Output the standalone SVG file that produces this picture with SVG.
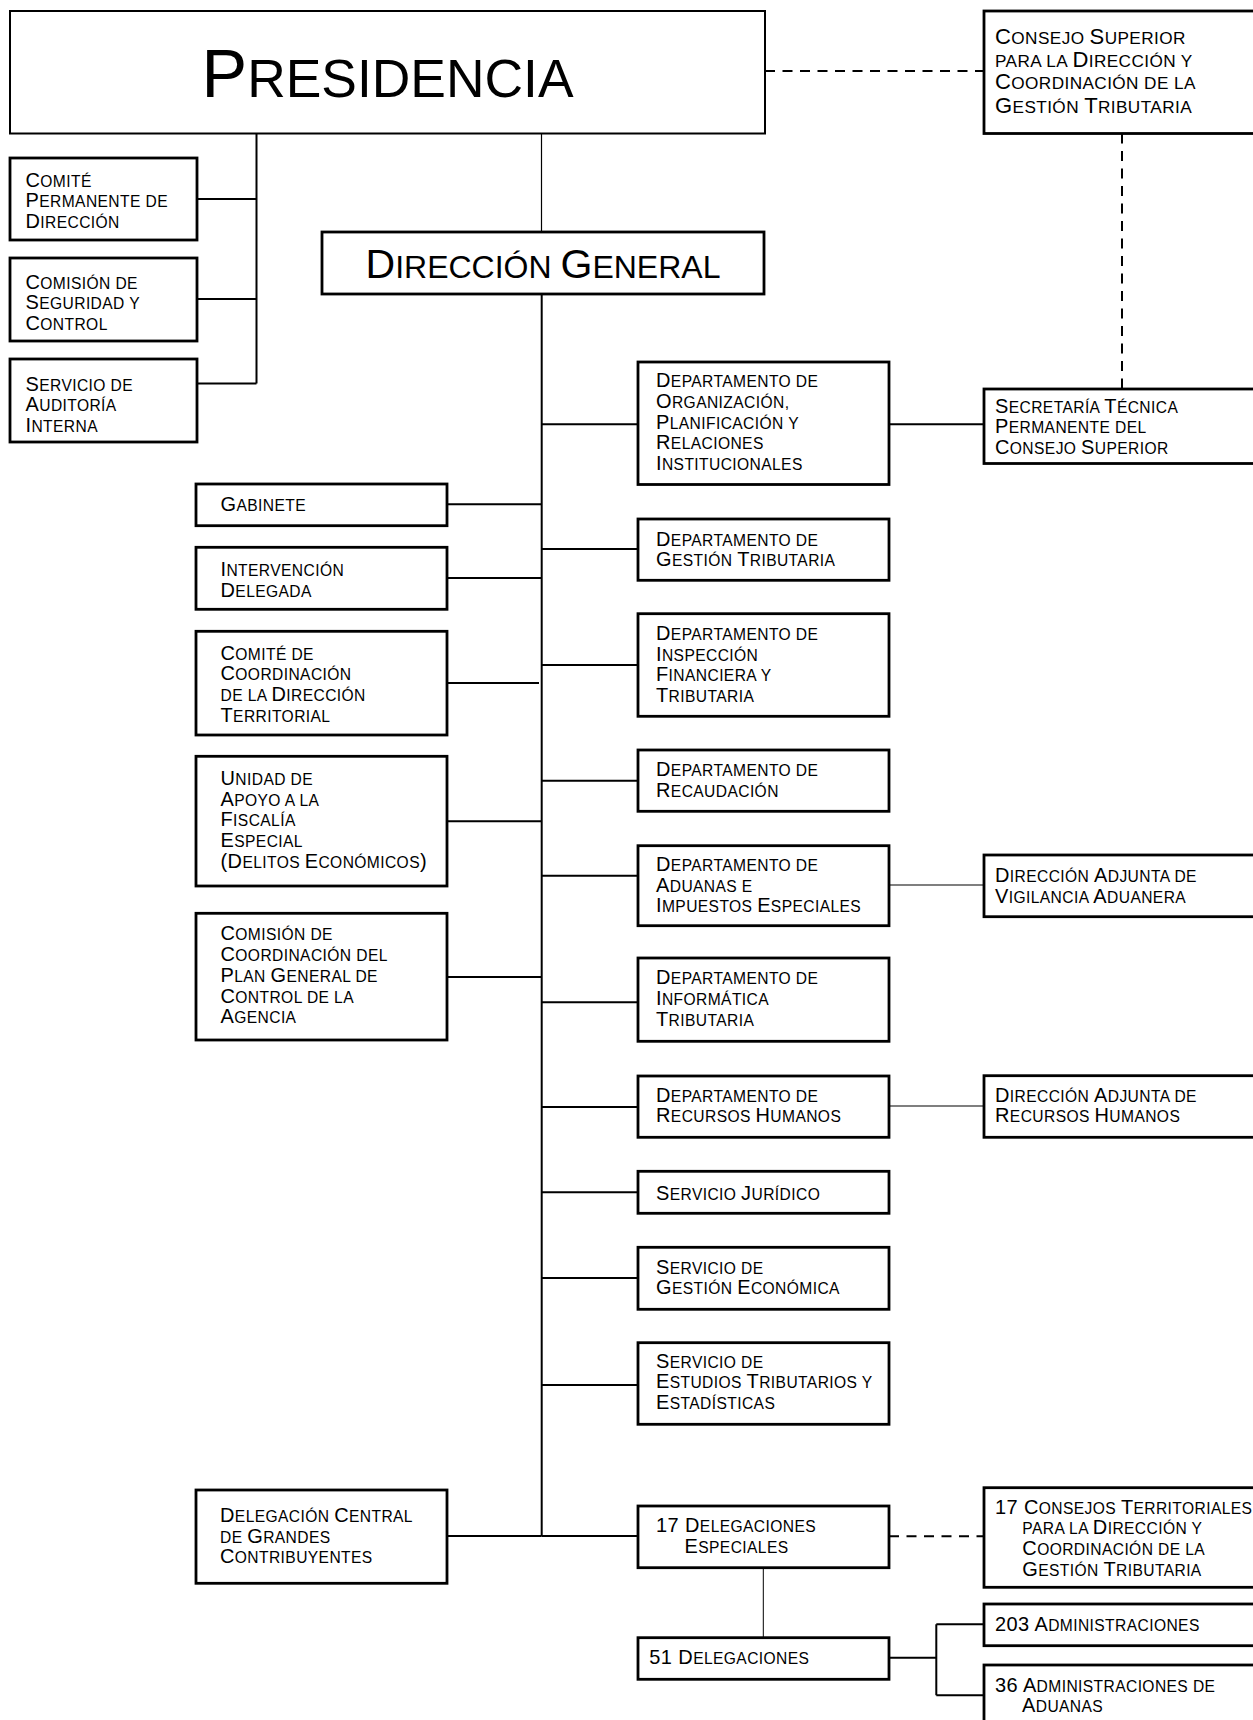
<svg xmlns="http://www.w3.org/2000/svg" width="1253" height="1720" viewBox="0 0 1253 1720">
<style>
.box{fill:#fff;stroke:#000;stroke-width:2.8}
.t{font-family:"Liberation Sans",Arial,sans-serif;font-size:15.6px;letter-spacing:0.4px;fill:#000}
.c{font-size:17.2px}
.p{font-size:53.4px;letter-spacing:0}
.g{font-size:32px;letter-spacing:0}
.B{font-size:128.2%}
.ln{stroke:#000;stroke-width:2;fill:none}
.thin{stroke-width:1.2}
.dash{stroke-dasharray:10 7.5}
</style>
<rect width="1253" height="1720" fill="#fff"/>
<g id="connectors">
<line class="ln thin" x1="541.5" y1="133.5" x2="541.5" y2="232"/>
<path class="ln" d="M256.5 133.5V383.5M197 199H256.5M197 299H256.5M197 383.5H256.5"/>
<path class="ln" d="M541.7 294V1536"/>
<path class="ln" d="M447 504.3H541.7M447 578H541.7M447 683H539M447 821.3H541.7M447 977H541.7M447 1536H541.7"/>
<path class="ln" d="M541.7 424.3H638M541.7 549H638M541.7 665H638M541.7 780.7H638M541.7 875.7H638M541.7 1002.3H638M541.7 1107H638M541.7 1192.3H638M541.7 1278H638M541.7 1385H638M541.7 1536H638"/>
<path class="ln" d="M889 424.3H984"/>
<path class="ln thin" d="M889 885H984M889 1106H984"/>
<path class="ln" d="M763.3 1567.7V1637.7" style="stroke-width:1"/>
<path class="ln" d="M889 1657.7H936.3M936.3 1624.3V1695.3M936.3 1624.3H984M936.3 1695.3H984"/>
<path class="ln dash" d="M765 71H984"/>
<path class="ln dash" d="M1122 133.5V389"/>
<path class="ln dash" d="M889 1536.3H984"/>
</g>
<g id="presidencia"><rect class="box" style="stroke-width:2" x="10" y="11" width="755" height="122.5"/>
<text class="t p" x="387.5" y="96.7" text-anchor="middle"><tspan class="B">P</tspan>RESIDENCIA</text></g>
<g id="consejo-superior"><rect class="box" x="984" y="11" width="278" height="122.5"/>
<text class="t c" x="995" y="43.7"><tspan class="B">C</tspan>ONSEJO <tspan class="B">S</tspan>UPERIOR</text>
<text class="t c" x="995" y="66.7">PARA LA <tspan class="B">D</tspan>IRECCIÓN Y</text>
<text class="t c" x="995" y="89.3"><tspan class="B">C</tspan>OORDINACIÓN DE LA</text>
<text class="t c" x="995" y="113.3"><tspan class="B">G</tspan>ESTIÓN <tspan class="B">T</tspan>RIBUTARIA</text></g>
<g id="direccion-general"><rect class="box" x="322" y="232" width="442" height="62"/>
<text class="t g" x="543" y="278.3" text-anchor="middle"><tspan class="B">D</tspan>IRECCIÓN <tspan class="B">G</tspan>ENERAL</text></g>
<g id="comite-permanente"><rect class="box" x="10" y="158" width="187" height="82"/>
<text class="t" x="25.5" y="186.7"><tspan class="B">C</tspan>OMITÉ</text>
<text class="t" x="25.5" y="207"><tspan class="B">P</tspan>ERMANENTE DE</text>
<text class="t" x="25.5" y="228"><tspan class="B">D</tspan>IRECCIÓN</text></g>
<g id="comision-seguridad"><rect class="box" x="10" y="258" width="187" height="83"/>
<text class="t" x="25.5" y="289"><tspan class="B">C</tspan>OMISIÓN DE</text>
<text class="t" x="25.5" y="309"><tspan class="B">S</tspan>EGURIDAD Y</text>
<text class="t" x="25.5" y="330"><tspan class="B">C</tspan>ONTROL</text></g>
<g id="auditoria"><rect class="box" x="10" y="359" width="187" height="83"/>
<text class="t" x="25.5" y="391"><tspan class="B">S</tspan>ERVICIO DE</text>
<text class="t" x="25.5" y="411"><tspan class="B">A</tspan>UDITORÍA</text>
<text class="t" x="25.5" y="432"><tspan class="B">I</tspan>NTERNA</text></g>
<g id="dep-organizacion"><rect class="box" x="638" y="362" width="251" height="122.5"/>
<text class="t" x="656" y="387.2"><tspan class="B">D</tspan>EPARTAMENTO DE</text>
<text class="t" x="656" y="407.9"><tspan class="B">O</tspan>RGANIZACIÓN,</text>
<text class="t" x="656" y="428.6"><tspan class="B">P</tspan>LANIFICACIÓN Y</text>
<text class="t" x="656" y="449.3"><tspan class="B">R</tspan>ELACIONES</text>
<text class="t" x="656" y="470"><tspan class="B">I</tspan>NSTITUCIONALES</text></g>
<g id="secretaria"><rect class="box" x="984" y="389" width="278" height="74.5"/>
<text class="t" x="995" y="413"><tspan class="B">S</tspan>ECRETARÍA <tspan class="B">T</tspan>ÉCNICA</text>
<text class="t" x="995" y="433.3"><tspan class="B">P</tspan>ERMANENTE DEL</text>
<text class="t" x="995" y="454"><tspan class="B">C</tspan>ONSEJO <tspan class="B">S</tspan>UPERIOR</text></g>
<g id="gabinete"><rect class="box" x="196" y="484" width="251" height="41.7"/>
<text class="t" x="220.5" y="511.3"><tspan class="B">G</tspan>ABINETE</text></g>
<g id="intervencion"><rect class="box" x="196" y="547.3" width="251" height="62"/>
<text class="t" x="220.5" y="576"><tspan class="B">I</tspan>NTERVENCIÓN</text>
<text class="t" x="220.5" y="596.7"><tspan class="B">D</tspan>ELEGADA</text></g>
<g id="comite-coordinacion"><rect class="box" x="196" y="631.3" width="251" height="103.7"/>
<text class="t" x="220.5" y="660"><tspan class="B">C</tspan>OMITÉ DE</text>
<text class="t" x="220.5" y="680"><tspan class="B">C</tspan>OORDINACIÓN</text>
<text class="t" x="220.5" y="701">DE LA <tspan class="B">D</tspan>IRECCIÓN</text>
<text class="t" x="220.5" y="721.7"><tspan class="B">T</tspan>ERRITORIAL</text></g>
<g id="unidad-apoyo"><rect class="box" x="196" y="756.3" width="251" height="129.7"/>
<text class="t" x="220.5" y="785"><tspan class="B">U</tspan>NIDAD DE</text>
<text class="t" x="220.5" y="805.7"><tspan class="B">A</tspan>POYO A LA</text>
<text class="t" x="220.5" y="826"><tspan class="B">F</tspan>ISCALÍA</text>
<text class="t" x="220.5" y="846.7"><tspan class="B">E</tspan>SPECIAL</text>
<text class="t" x="220.5" y="867.7"><tspan class="B">(D</tspan>ELITOS <tspan class="B">E</tspan>CONÓMICOS<tspan class="B">)</tspan></text></g>
<g id="comision-plan"><rect class="box" x="196" y="913.3" width="251" height="126.7"/>
<text class="t" x="220.5" y="940"><tspan class="B">C</tspan>OMISIÓN DE</text>
<text class="t" x="220.5" y="961"><tspan class="B">C</tspan>OORDINACIÓN DEL</text>
<text class="t" x="220.5" y="981.7"><tspan class="B">P</tspan>LAN <tspan class="B">G</tspan>ENERAL DE</text>
<text class="t" x="220.5" y="1002.7"><tspan class="B">C</tspan>ONTROL DE LA</text>
<text class="t" x="220.5" y="1023.3"><tspan class="B">A</tspan>GENCIA</text></g>
<g id="dep-gestion"><rect class="box" x="638" y="519" width="251" height="61.3"/>
<text class="t" x="656" y="546"><tspan class="B">D</tspan>EPARTAMENTO DE</text>
<text class="t" x="656" y="566"><tspan class="B">G</tspan>ESTIÓN <tspan class="B">T</tspan>RIBUTARIA</text></g>
<g id="dep-inspeccion"><rect class="box" x="638" y="613.7" width="251" height="102.6"/>
<text class="t" x="656" y="640"><tspan class="B">D</tspan>EPARTAMENTO DE</text>
<text class="t" x="656" y="660.7"><tspan class="B">I</tspan>NSPECCIÓN</text>
<text class="t" x="656" y="681.3"><tspan class="B">F</tspan>INANCIERA Y</text>
<text class="t" x="656" y="702"><tspan class="B">T</tspan>RIBUTARIA</text></g>
<g id="dep-recaudacion"><rect class="box" x="638" y="750" width="251" height="61.3"/>
<text class="t" x="656" y="775.7"><tspan class="B">D</tspan>EPARTAMENTO DE</text>
<text class="t" x="656" y="796.7"><tspan class="B">R</tspan>ECAUDACIÓN</text></g>
<g id="dep-aduanas"><rect class="box" x="638" y="845.7" width="251" height="80"/>
<text class="t" x="656" y="871"><tspan class="B">D</tspan>EPARTAMENTO DE</text>
<text class="t" x="656" y="891.7"><tspan class="B">A</tspan>DUANAS E</text>
<text class="t" x="656" y="912.3"><tspan class="B">I</tspan>MPUESTOS <tspan class="B">E</tspan>SPECIALES</text></g>
<g id="da-vigilancia"><rect class="box" x="984" y="855" width="278" height="61.7"/>
<text class="t" x="995" y="882.3"><tspan class="B">D</tspan>IRECCIÓN <tspan class="B">A</tspan>DJUNTA DE</text>
<text class="t" x="995" y="902.7"><tspan class="B">V</tspan>IGILANCIA <tspan class="B">A</tspan>DUANERA</text></g>
<g id="dep-informatica"><rect class="box" x="638" y="958" width="251" height="83.3"/>
<text class="t" x="656" y="984"><tspan class="B">D</tspan>EPARTAMENTO DE</text>
<text class="t" x="656" y="1005"><tspan class="B">I</tspan>NFORMÁTICA</text>
<text class="t" x="656" y="1025.7"><tspan class="B">T</tspan>RIBUTARIA</text></g>
<g id="dep-rrhh"><rect class="box" x="638" y="1076" width="251" height="61.3"/>
<text class="t" x="656" y="1102.3"><tspan class="B">D</tspan>EPARTAMENTO DE</text>
<text class="t" x="656" y="1122.3"><tspan class="B">R</tspan>ECURSOS <tspan class="B">H</tspan>UMANOS</text></g>
<g id="da-rrhh"><rect class="box" x="984" y="1075.7" width="278" height="61.6"/>
<text class="t" x="995" y="1102.3"><tspan class="B">D</tspan>IRECCIÓN <tspan class="B">A</tspan>DJUNTA DE</text>
<text class="t" x="995" y="1122.3"><tspan class="B">R</tspan>ECURSOS <tspan class="B">H</tspan>UMANOS</text></g>
<g id="serv-juridico"><rect class="box" x="638" y="1171.3" width="251" height="42"/>
<text class="t" x="656" y="1200"><tspan class="B">S</tspan>ERVICIO <tspan class="B">J</tspan>URÍDICO</text></g>
<g id="serv-gestion-economica"><rect class="box" x="638" y="1247.3" width="251" height="62"/>
<text class="t" x="656" y="1274.3"><tspan class="B">S</tspan>ERVICIO DE</text>
<text class="t" x="656" y="1294.3"><tspan class="B">G</tspan>ESTIÓN <tspan class="B">E</tspan>CONÓMICA</text></g>
<g id="serv-estudios"><rect class="box" x="638" y="1342.7" width="251" height="81.6"/>
<text class="t" x="656" y="1367.7"><tspan class="B">S</tspan>ERVICIO DE</text>
<text class="t" x="656" y="1388.3"><tspan class="B">E</tspan>STUDIOS <tspan class="B">T</tspan>RIBUTARIOS Y</text>
<text class="t" x="656" y="1409"><tspan class="B">E</tspan>STADÍSTICAS</text></g>
<g id="delegacion-central"><rect class="box" x="196" y="1490" width="251" height="93.3"/>
<text class="t" x="220" y="1521.7"><tspan class="B">D</tspan>ELEGACIÓN <tspan class="B">C</tspan>ENTRAL</text>
<text class="t" x="220" y="1542.7">DE <tspan class="B">G</tspan>RANDES</text>
<text class="t" x="220" y="1563.3"><tspan class="B">C</tspan>ONTRIBUYENTES</text></g>
<g id="delegaciones-especiales"><rect class="box" x="638" y="1506" width="251" height="61.7"/>
<text class="t" x="656" y="1532"><tspan class="B">17 D</tspan>ELEGACIONES</text>
<text class="t" x="684.5" y="1552.7"><tspan class="B">E</tspan>SPECIALES</text></g>
<g id="consejos-territoriales"><rect class="box" x="984" y="1487.7" width="278" height="99.6"/>
<text class="t" x="995" y="1514"><tspan class="B">17 C</tspan>ONSEJOS <tspan class="B">T</tspan>ERRITORIALES</text>
<text class="t" x="1022.3" y="1534">PARA LA <tspan class="B">D</tspan>IRECCIÓN Y</text>
<text class="t" x="1022.3" y="1555"><tspan class="B">C</tspan>OORDINACIÓN DE LA</text>
<text class="t" x="1022.3" y="1575.7"><tspan class="B">G</tspan>ESTIÓN <tspan class="B">T</tspan>RIBUTARIA</text></g>
<g id="delegaciones"><rect class="box" x="638" y="1637.7" width="251" height="41.6"/>
<text class="t" x="649.3" y="1664"><tspan class="B">51 D</tspan>ELEGACIONES</text></g>
<g id="administraciones"><rect class="box" x="984" y="1604" width="278" height="41.7"/>
<text class="t" x="995" y="1630.7"><tspan class="B">203 A</tspan>DMINISTRACIONES</text></g>
<g id="administraciones-aduanas"><rect class="box" x="984" y="1665" width="278" height="70"/>
<text class="t" x="995" y="1691.7"><tspan class="B">36 A</tspan>DMINISTRACIONES DE</text>
<text class="t" x="1022" y="1712.3"><tspan class="B">A</tspan>DUANAS</text></g>
</svg>
